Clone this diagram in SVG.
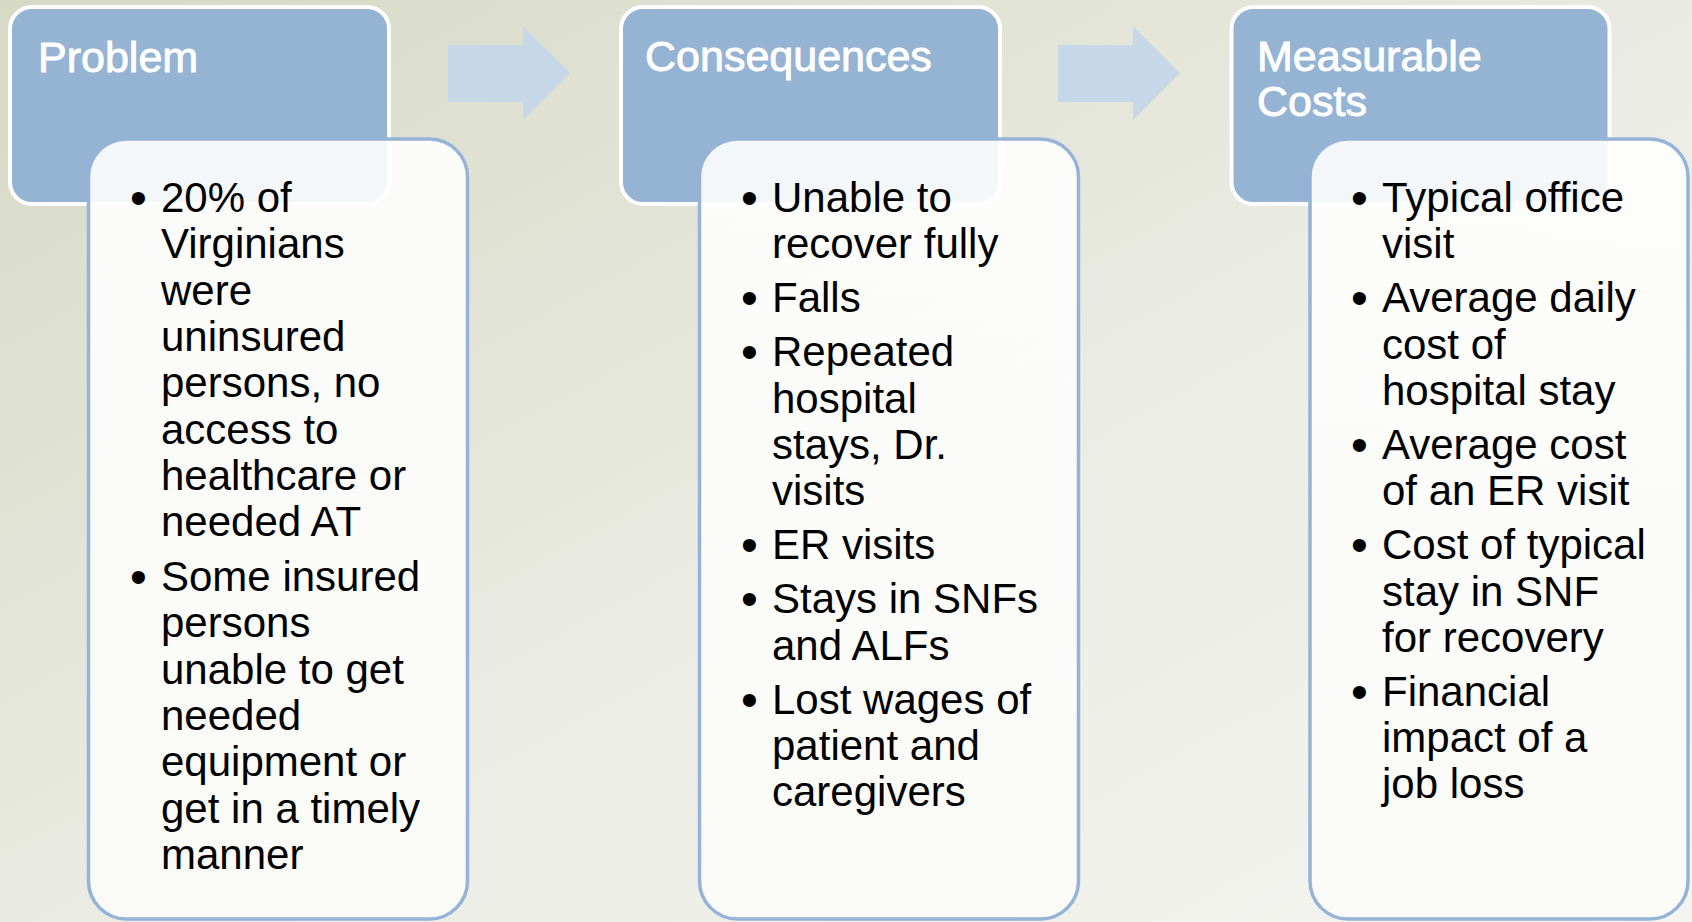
<svg xmlns="http://www.w3.org/2000/svg" width="1692" height="922" viewBox="0 0 1692 922">
<defs>
<linearGradient id="bg" x1="0" y1="0" x2="1" y2="1">
<stop offset="0" stop-color="#d6d9c5"/>
<stop offset="0.55" stop-color="#ebece4"/>
<stop offset="1" stop-color="#f4f4f1"/>
</linearGradient>
<linearGradient id="card" x1="0" y1="0" x2="0" y2="1">
<stop offset="0" stop-color="#ffffff"/>
<stop offset="1" stop-color="#fbfbf8"/>
</linearGradient>
</defs>
<style>
.head{fill:#95b3d3;stroke:#ffffff;stroke-width:4}
.card{fill:url(#card);fill-opacity:0.9;stroke:#95b3d7;stroke-width:3.5}
.arrow{fill:#c6d7e7}
.title{font-family:"Liberation Sans",Arial,sans-serif;font-size:43px;fill:#ffffff;stroke:#ffffff;stroke-width:0.9}
.body{font-family:"Liberation Sans",Arial,sans-serif;font-size:42px;fill:#000000}
.bul{font-family:"Liberation Sans",Arial,sans-serif;font-size:48px;fill:#000000}
</style>
<rect x="0" y="0" width="1692" height="922" fill="url(#bg)"/>
<g id="connectors">
<polygon class="arrow" points="448,45 523,45 523,26 570,73 523,120 523,102 448,102"/>
<polygon class="arrow" points="1058,45 1133,45 1133,26 1180,73 1133,120 1133,102 1058,102"/>
</g>
<g id="problem">
<rect class="head" x="10" y="7" width="379" height="197" rx="22"/>
<rect class="card" x="88.5" y="139" width="379" height="780" rx="38"/>
<text class="title" x="38" y="72">Problem</text>
<text class="bul" x="130" y="214">•</text>
<text class="bul" x="130" y="593">•</text>
<text class="body" x="161">
<tspan x="161" y="212">20% of</tspan>
<tspan x="161" y="258.3">Virginians</tspan>
<tspan x="161" y="304.6">were</tspan>
<tspan x="161" y="350.9">uninsured</tspan>
<tspan x="161" y="397.2">persons, no</tspan>
<tspan x="161" y="443.5">access to</tspan>
<tspan x="161" y="489.8">healthcare or</tspan>
<tspan x="161" y="536.1">needed AT</tspan>
<tspan x="161" y="591">Some insured</tspan>
<tspan x="161" y="637.3">persons</tspan>
<tspan x="161" y="683.6">unable to get</tspan>
<tspan x="161" y="729.9">needed</tspan>
<tspan x="161" y="776.2">equipment or</tspan>
<tspan x="161" y="822.5">get in a timely</tspan>
<tspan x="161" y="868.8">manner</tspan>
</text>
</g>
<g id="consequences">
<rect class="head" x="621" y="7" width="379" height="197" rx="22"/>
<rect class="card" x="699.5" y="139" width="379" height="780" rx="38"/>
<text class="title" x="645" y="71">Consequences</text>
<text class="bul" x="741" y="214">•</text>
<text class="bul" x="741" y="314.3">•</text>
<text class="bul" x="741" y="368.3">•</text>
<text class="bul" x="741" y="561.2">•</text>
<text class="bul" x="741" y="615.2">•</text>
<text class="bul" x="741" y="715.5">•</text>
<text class="body">
<tspan x="772" y="212">Unable to</tspan>
<tspan x="772" y="258.3">recover fully</tspan>
<tspan x="772" y="312.3">Falls</tspan>
<tspan x="772" y="366.3">Repeated</tspan>
<tspan x="772" y="412.6">hospital</tspan>
<tspan x="772" y="458.9">stays, Dr.</tspan>
<tspan x="772" y="505.2">visits</tspan>
<tspan x="772" y="559.2">ER visits</tspan>
<tspan x="772" y="613.2">Stays in SNFs</tspan>
<tspan x="772" y="659.5">and ALFs</tspan>
<tspan x="772" y="713.5">Lost wages of</tspan>
<tspan x="772" y="759.8">patient and</tspan>
<tspan x="772" y="806.1">caregivers</tspan>
</text>
</g>
<g id="measurable-costs">
<rect class="head" x="1231.5" y="7" width="378" height="197" rx="22"/>
<rect class="card" x="1310" y="139" width="378" height="780" rx="38"/>
<text class="title"><tspan x="1257" y="71">Measurable</tspan><tspan x="1257" y="116">Costs</tspan></text>
<text class="bul" x="1351" y="214">•</text>
<text class="bul" x="1351" y="314.3">•</text>
<text class="bul" x="1351" y="460.9">•</text>
<text class="bul" x="1351" y="561.2">•</text>
<text class="bul" x="1351" y="707.8">•</text>
<text class="body">
<tspan x="1382" y="212">Typical office</tspan>
<tspan x="1382" y="258.3">visit</tspan>
<tspan x="1382" y="312.3">Average daily</tspan>
<tspan x="1382" y="358.6">cost of</tspan>
<tspan x="1382" y="404.9">hospital stay</tspan>
<tspan x="1382" y="458.9">Average cost</tspan>
<tspan x="1382" y="505.2">of an ER visit</tspan>
<tspan x="1382" y="559.2">Cost of typical</tspan>
<tspan x="1382" y="605.5">stay in SNF</tspan>
<tspan x="1382" y="651.8">for recovery</tspan>
<tspan x="1382" y="705.8">Financial</tspan>
<tspan x="1382" y="752.1">impact of a</tspan>
<tspan x="1382" y="798.4">job loss</tspan>
</text>
</g>
</svg>
